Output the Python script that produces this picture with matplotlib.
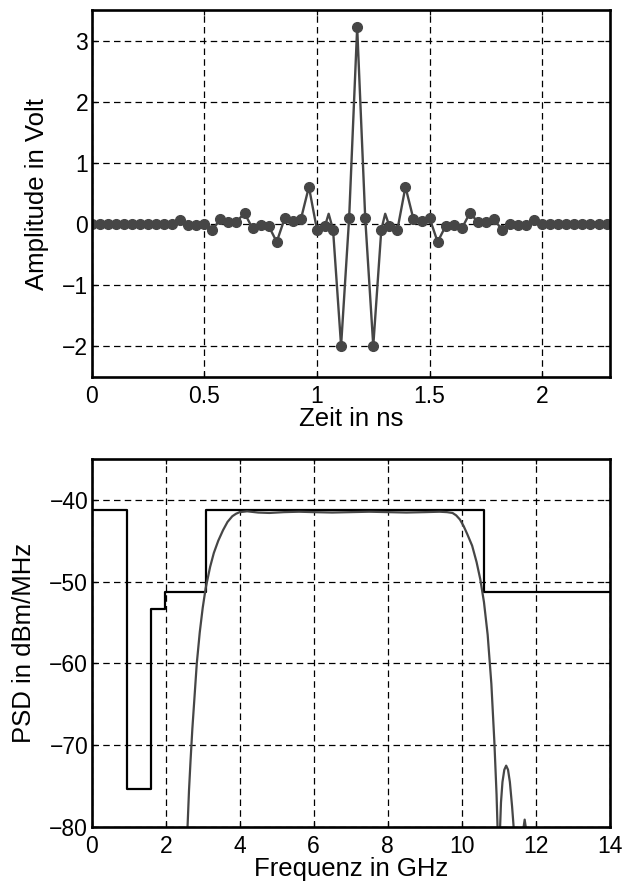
import matplotlib
matplotlib.use("Agg")
import matplotlib.pyplot as plt
import numpy as np

plt.rcParams['font.family'] = ['Liberation Sans', 'DejaVu Sans']
plt.rcParams['font.size'] = 16.5

# ---------------- data: top plot (UWB pulse samples) ----------------
sample_rate_ghz = 28.0
sample_index = list(range(65))
sample_volt = [
    0.0, 0.0, 0.0, 0.0, 0.0, 0.0, 0.0, 0.0, 0.0, 0.0, 0.0,
    0.07, -0.02, -0.01, 0.0, -0.09, 0.08, 0.04, 0.04, 0.18, -0.07,
    -0.02, -0.03, -0.29, 0.10, 0.05, 0.08, 0.61, -0.09, -0.03, -0.09,
    -1.99, 0.10, 3.22, 0.10, -1.99, -0.09, -0.03, -0.09, 0.61, 0.08,
    0.05, 0.10, -0.29, -0.03, -0.02, -0.07, 0.18, 0.04, 0.04, 0.08,
    -0.09, 0.0, -0.01, -0.02, 0.07,
    0.0, 0.0, 0.0, 0.0, 0.0, 0.0, 0.0, 0.0, 0.0,
]
# extra points of the continuous curve between samples
bump_time = [1.052, 1.303]
bump_volt = [0.17, 0.17]

top_xticks = [0, 0.5, 1, 1.5, 2]
top_xticklabels = ["0", "0.5", "1", "1.5", "2"]
top_yticks = [-2, -1, 0, 1, 2, 3]

# ---------------- data: bottom plot (PSD + FCC mask) ----------------
mask_freq = [0.0, 0.96, 0.96, 1.61, 1.61, 1.99, 1.99, 3.1, 3.1, 10.6, 10.6, 14.0]
mask_db = [-41.3, -41.3, -75.3, -75.3, -53.3, -53.3, -51.3, -51.3, -41.3, -41.3, -51.3, -51.3]

psd_freq = [2.54, 2.59, 2.63, 2.67, 2.72, 2.78, 2.84, 2.92, 3.0, 3.08, 3.2, 3.3,
            3.42, 3.55, 3.67, 3.8, 3.9, 4.0, 4.2, 4.5, 4.8, 5.2, 5.6, 6.0, 6.5,
            7.0, 7.5, 8.0, 8.5, 9.0, 9.4, 9.6, 9.75, 9.85, 9.95, 10.05, 10.15,
            10.28, 10.4, 10.5, 10.6, 10.7, 10.8, 10.88, 10.94, 10.97, 10.995,
            11.02, 11.06, 11.1, 11.15, 11.2, 11.25, 11.3, 11.36, 11.41, 11.46,
            11.55, 11.64, 11.7, 11.76, 11.82]
psd_db = [-86, -80, -75.5, -72, -68, -64, -60, -56.2, -53.2, -50.8, -48.2, -46.5,
          -45.0, -43.7, -42.7, -42.0, -41.7, -41.5, -41.4, -41.55, -41.6, -41.5,
          -41.45, -41.5, -41.55, -41.5, -41.45, -41.5, -41.55, -41.5, -41.45,
          -41.5, -41.6, -41.9, -42.4, -43.2, -44.2, -45.6, -47.6, -49.7, -52.5,
          -56.5, -62.5, -69.5, -76.0, -80.5, -95,
          -82, -77, -74.5, -73.0, -72.5, -73.0, -74.5, -77.5, -80.5, -95,
          -95, -81.0, -79.1, -81.0, -95]

bot_xticks = [0, 2, 4, 6, 8, 10, 12, 14]
bot_yticks = [-80, -70, -60, -50, -40]

# ---------------- figure ----------------
fig = plt.figure(figsize=(6.28, 8.84), dpi=100)
ax1 = fig.add_axes([0.146, 0.5735, 0.825, 0.415])
ax2 = fig.add_axes([0.146, 0.0645, 0.825, 0.4163])

curve_col = "#464646"
grid_kw = dict(color="black", linestyle=(0, (5.2, 3.4)), linewidth=0.9)
label_size = 18.5

# top plot
sample_time = [n / sample_rate_ghz for n in sample_index]
line_pts = sorted(list(zip(sample_time, sample_volt)) + list(zip(bump_time, bump_volt)))
ax1.plot([p[0] for p in line_pts], [p[1] for p in line_pts], color=curve_col,
         linewidth=1.7, zorder=3)
ax1.plot(sample_time, sample_volt, linestyle="none", marker="o", markersize=7,
         color=curve_col, zorder=4)
ax1.set_xlim(0, 2.3)
ax1.set_ylim(-2.5, 3.5)
ax1.set_xticks(top_xticks)
ax1.set_xticklabels(top_xticklabels)
ax1.set_yticks(top_yticks)
ax1.set_xlabel("Zeit in ns", fontsize=label_size)
ax1.set_ylabel("Amplitude in Volt", fontsize=label_size)
ax1.grid(True, **grid_kw)
ax1.xaxis.set_label_coords(0.5, -0.133)
ax1.xaxis.label.set_verticalalignment("baseline")
ax1.yaxis.set_label_coords(-0.1055, 0.5)
ax1.yaxis.label.set_verticalalignment("center")

# bottom plot
ax2.plot(mask_freq, mask_db, color="black", linewidth=1.6, zorder=3)
ax2.plot(psd_freq, psd_db, color=curve_col, linewidth=1.6, zorder=4)
ax2.set_xlim(0, 14)
ax2.set_ylim(-80, -35)
ax2.set_xticks(bot_xticks)
ax2.set_yticks(bot_yticks)
ax2.set_xlabel("Frequenz in GHz", fontsize=label_size)
ax2.set_ylabel("PSD in dBm/MHz", fontsize=label_size)
ax2.grid(True, **grid_kw)
ax2.xaxis.set_label_coords(0.5, -0.133)
ax2.xaxis.label.set_verticalalignment("baseline")
ax2.yaxis.set_label_coords(-0.1306, 0.5)
ax2.yaxis.label.set_verticalalignment("center")

for ax in (ax1, ax2):
    ax.set_axisbelow(True)
    for s in ax.spines.values():
        s.set_linewidth(1.9)
        s.set_zorder(5)
    ax.tick_params(direction="in", length=3.5, width=0.9, top=True, right=True,
                   labelsize=16.5)
    ax.tick_params(axis="x", pad=6)
    ax.tick_params(axis="y", pad=2.5)

fig.savefig("out.png", dpi=100)
